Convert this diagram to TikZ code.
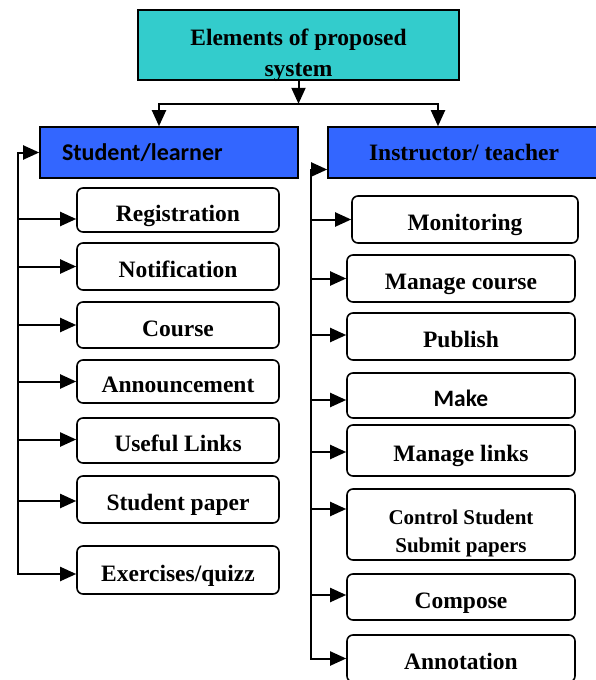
\documentclass[tikz,border=0pt]{standalone}
\usepackage{fontspec}
\setmainfont{Liberation Serif}
\newfontfamily\calfont{Carlito}
\usetikzlibrary{arrows.meta, positioning}
\definecolor{headcyan}{HTML}{33CCCC}
\definecolor{roleblue}{HTML}{3366FF}

\begin{document}
\begin{tikzpicture}[x=1pt, y=-1pt,
    >={Triangle[length=16pt, width=14pt]},
    every node/.style={font=\fontsize{23.5}{27}\selectfont\bfseries},
    head/.style={draw, line width=1.6pt, fill=headcyan, minimum width=321pt, minimum height=70pt, align=center,
                 font=\fontsize{23.5}{31}\selectfont\bfseries, text height=62pt, text depth=0pt},
    role/.style={draw, line width=1.6pt, fill=roleblue, minimum height=51pt},
    item/.style={draw, line width=1.6pt, rounded corners=6pt, minimum width=202pt, minimum height=46pt,
                 text height=22pt, text depth=0pt},
    ritem/.style={item, minimum width=228pt},
    link/.style={line width=2pt}]
    \useasboundingbox (0,0) rectangle (595,680);

    % boxes
    \node [head] (sys) at (298.5,45) {Elements of proposed\\system};
    \node [role, minimum width=258pt, text width=214pt, align=left,
           font=\calfont\fontsize{24}{28}\selectfont\bfseries] (stu) at (169,152.5) {Student/learner};
    \node [role, minimum width=272pt] (ins) at (464,152.5) {Instructor/ teacher};

    % student side
    \node [item, minimum height=44pt] (reg) at (178,210) {Registration};
    \node [item, minimum height=47pt] (note) at (178,266.5) {Notification};
    \node [item] (course) at (178,325) {Course};
    \node [item, minimum height=43pt] (ann) at (178,381.5) {Announcement};
    \node [item, minimum height=45pt] (links) at (178,440.5) {Useful Links};
    \node [item, minimum height=47pt] (paper) at (178,499.5) {Student paper};
    \node [item, minimum height=48pt] (quiz) at (178,570) {Exercises/quizz};

    % teacher side
    \node [ritem, minimum width=226pt, minimum height=47pt] (mon) at (465,219.5) {Monitoring};
    \node [ritem, minimum height=47pt] (mcourse) at (461,278.5) {Manage course};
    \node [ritem, minimum height=47pt] (pub) at (461,336.5) {Publish};
    \node [ritem, minimum height=45pt,
           font=\calfont\fontsize{23.5}{27}\selectfont\bfseries] (make) at (461,395.5) {Make};
    \node [ritem, minimum height=51pt] (mlinks) at (461,450.5) {Manage links};
    \node [ritem, minimum height=71pt, align=center, text height=55pt,
           font=\fontsize{21}{28}\selectfont\bfseries] (ctrl) at (461,524.5) {Control Student\\Submit papers};
    \node [ritem] (comp) at (461,597) {Compose};
    \node [ritem, minimum height=47pt] (annot) at (461,658.5) {Annotation};

    % arrows
    \coordinate (bus) at ([yshift=-23pt]sys.south);
    \draw [link, ->] (sys.south) -- (bus);
    \draw [link, ->] (bus) -| ([xshift=-10pt]stu.north);
    \draw [link, ->] (bus) -| ([xshift=-26pt]ins.north);

    \draw [link, <->] (stu.west) -- ++(-21,0) coordinate (ltrunk) |- ([yshift=-4pt]quiz.west);
    \foreach \n/\s in {reg/-9, note/0, course/0, ann/0, links/1, paper/-1.5} {
        \coordinate (tip) at ([yshift=\s pt]\n.west);
        \draw [link, ->] (ltrunk |- tip) -- (tip);
    }

    \draw [link, <->] ([yshift=-17pt]ins.west) -- ++(-16,0) coordinate (rtrunk) |- (annot.west);
    \foreach \n/\s in {mon/0, mcourse/0, pub/1.5, make/-4.5, mlinks/-1.5, ctrl/15.5, comp/2} {
        \coordinate (tip) at ([yshift=\s pt]\n.west);
        \draw [link, ->] (rtrunk |- tip) -- (tip);
    }
\end{tikzpicture}
\end{document}
